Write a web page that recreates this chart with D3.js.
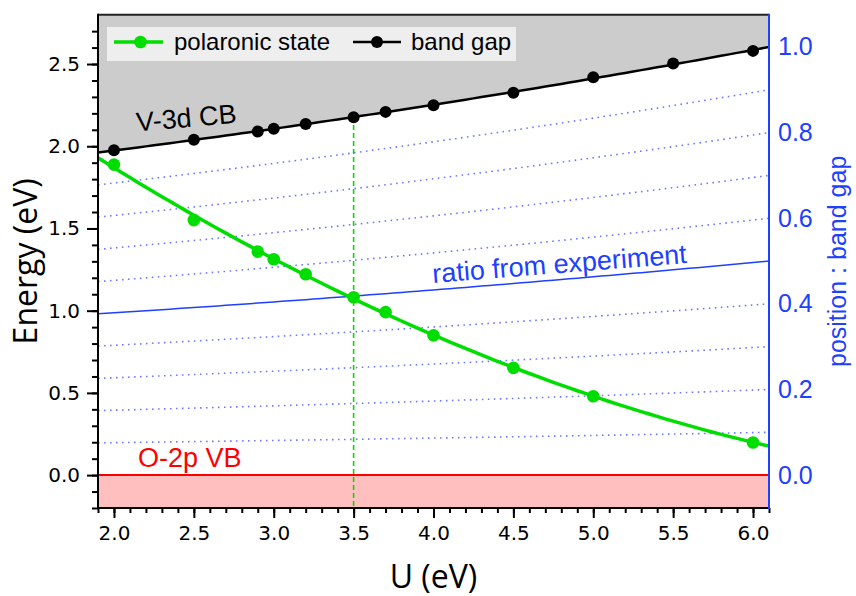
<!DOCTYPE html>
<html>
<head>
<meta charset="utf-8">
<script src="https://cdn.jsdelivr.net/npm/d3@7"></script>
<style>
  body { margin: 0; background: #fff; }
</style>
</head>
<body>
<div id="chart"></div>
<script>
// data
const gapU = [2.0, 2.5, 2.9, 3.0, 3.2, 3.5, 3.7, 4.0, 4.5, 5.0, 5.5, 6.0];
const gapE = [1.975, 2.039, 2.090, 2.106, 2.136, 2.176, 2.209, 2.249, 2.326, 2.419, 2.503, 2.580];
const polU = [2.0, 2.5, 2.9, 3.0, 3.2, 3.5, 3.7, 4.0, 4.5, 5.0, 6.0];
const polE = [1.888, 1.551, 1.359, 1.313, 1.222, 1.082, 0.991, 0.850, 0.652, 0.480, 0.198];
const ratioLevels = [0.1, 0.2, 0.3, 0.4, 0.6, 0.7, 0.8, 0.9];
const expRatio = 0.5;
const markU = 3.5;
const xTicks = [2.0, 2.5, 3.0, 3.5, 4.0, 4.5, 5.0, 5.5, 6.0];
const yTicks = [0.0, 0.5, 1.0, 1.5, 2.0, 2.5];
const rTicks = [0.0, 0.2, 0.4, 0.6, 0.8, 1.0];

const W = 856, H = 596;
const pL = 98, pR = 769, pT = 14.7, pB = 508;
const green = "#00dd00", blue = "#2040ff";
const sans = "'Liberation Sans', Arial, sans-serif";

// quadratic least squares fit
function quadFit(xs, ys) {
    let S = [0, 0, 0, 0, 0], T = [0, 0, 0];
    xs.forEach((x, i) => {
        for (let k = 0; k < 5; k++) S[k] += Math.pow(x, k);
        for (let k = 0; k < 3; k++) T[k] += ys[i] * Math.pow(x, k);
    });
    const A = [[S[0], S[1], S[2], T[0]], [S[1], S[2], S[3], T[1]], [S[2], S[3], S[4], T[2]]];
    for (let c = 0; c < 3; c++) {
        for (let r = c + 1; r < 3; r++) {
            const f = A[r][c] / A[c][c];
            for (let k = c; k < 4; k++) A[r][k] -= f * A[c][k];
        }
    }
    const b = [0, 0, 0];
    for (let r = 2; r >= 0; r--) {
        let s = A[r][3];
        for (let k = r + 1; k < 3; k++) s -= A[r][k] * b[k];
        b[r] = s / A[r][r];
    }
    return u => b[0] + b[1] * u + b[2] * u * u;
}
const gapFit = quadFit(gapU, gapE);
const polFit = quadFit(polU, polE);

const x = d3.scaleLinear().domain([1.9, 6.1]).range([pL, pR]);
const y = d3.scaleLinear().domain([-0.2, 2.8]).range([pB, pT]);
const gR = gapFit(6.1);
const yR = d3.scaleLinear().domain([-0.2 / gR, 2.8 / gR]).range([pB, pT]);

const uGrid = d3.range(1.9, 6.1001, 0.05);

const svg = d3.select("#chart").append("svg")
    .attr("width", W).attr("height", H)
    .style("font-family", sans);

svg.append("defs").append("clipPath").attr("id", "plot")
    .append("rect").attr("x", pL).attr("y", pT)
    .attr("width", pR - pL).attr("height", pB - pT);

const g = svg.append("g").attr("clip-path", "url(#plot)");

// grey conduction band region
g.append("path")
    .attr("fill", "#cccccc")
    .attr("d", d3.area().x(d => x(d)).y0(pT).y1(d => y(gapFit(d)))(uGrid));

// pink valence band region
g.append("rect")
    .attr("x", pL).attr("y", y(0))
    .attr("width", pR - pL).attr("height", pB - y(0))
    .attr("fill", "#ffbfbf");

// dotted ratio lines
ratioLevels.forEach(f => {
    g.append("path")
        .attr("fill", "none")
        .attr("stroke", "#6b7bff")
        .attr("stroke-width", 1.6)
        .attr("stroke-dasharray", "1.6,4.4")
        .attr("d", d3.line().x(d => x(d)).y(d => y(f * gapFit(d)))(uGrid));
});

// ratio from experiment
g.append("path")
    .attr("fill", "none")
    .attr("stroke", blue)
    .attr("stroke-width", 1.5)
    .attr("d", d3.line().x(d => x(d)).y(d => y(expRatio * gapFit(d)))(uGrid));

// VB top
g.append("line")
    .attr("x1", pL).attr("x2", pR)
    .attr("y1", y(0)).attr("y2", y(0))
    .attr("stroke", "#ff0000").attr("stroke-width", 2);

// U = 3.5 marker
g.append("line")
    .attr("x1", x(markU)).attr("x2", x(markU))
    .attr("y1", y(gapFit(markU))).attr("y2", pB)
    .attr("stroke", green).attr("stroke-width", 1.6)
    .attr("stroke-dasharray", "5,3");

// band gap curve + points
g.append("path")
    .attr("fill", "none").attr("stroke", "#000").attr("stroke-width", 2.5)
    .attr("d", d3.line().x(d => x(d)).y(d => y(gapFit(d)))(uGrid));
g.selectAll(".gap-pt").data(gapU).join("circle")
    .attr("class", "gap-pt")
    .attr("cx", d => x(d)).attr("cy", (d, i) => y(gapE[i]))
    .attr("r", 6).attr("fill", "#000");

// polaronic curve + points
g.append("path")
    .attr("fill", "none").attr("stroke", green).attr("stroke-width", 3.5)
    .attr("d", d3.line().x(d => x(d)).y(d => y(polFit(d)))(uGrid));
g.selectAll(".pol-pt").data(polU).join("circle")
    .attr("class", "pol-pt")
    .attr("cx", d => x(d)).attr("cy", (d, i) => y(polE[i]))
    .attr("r", 6.3).attr("fill", green);

// annotations
g.append("text")
    .attr("transform", "translate(137,131.5) rotate(-5)")
    .attr("font-size", 27).attr("fill", "#000")
    .text("V-3d CB");

g.append("text")
    .attr("x", 138).attr("y", 467)
    .attr("font-size", 27).attr("fill", "#ff0000")
    .text("O-2p VB");

const ang = Math.atan2(y(expRatio * gapFit(6.1)) - y(expRatio * gapFit(1.9)), x(6.1) - x(1.9)) * 180 / Math.PI;
g.append("text")
    .attr("transform", `translate(433,283) rotate(${ang})`)
    .attr("font-size", 27).attr("fill", blue)
    .text("ratio from experiment");

// legend
const lg = svg.append("g");
lg.append("rect").attr("x", 107).attr("y", 27).attr("width", 409).attr("height", 34).attr("fill", "#eeeeee");
lg.append("line").attr("x1", 114).attr("x2", 163).attr("y1", 42).attr("y2", 42)
    .attr("stroke", green).attr("stroke-width", 3.5);
lg.append("circle").attr("cx", 140.5).attr("cy", 42).attr("r", 6.3).attr("fill", green);
lg.append("text").attr("x", 174).attr("y", 50).attr("font-size", 24).text("polaronic state");
lg.append("line").attr("x1", 353).attr("x2", 401).attr("y1", 42).attr("y2", 42)
    .attr("stroke", "#000").attr("stroke-width", 2.5);
lg.append("circle").attr("cx", 377).attr("cy", 42).attr("r", 6).attr("fill", "#000");
lg.append("text").attr("x", 411).attr("y", 50).attr("font-size", 24).text("band gap");

// top frame
svg.append("line").attr("x1", pL).attr("x2", pR).attr("y1", pT).attr("y2", pT)
    .attr("stroke", "#222").attr("stroke-width", 2);

// bottom axis
const xAxis = svg.append("g").attr("transform", `translate(0,${pB})`);
xAxis.append("g")
    .call(d3.axisBottom(x).tickValues(d3.range(19, 62).map(d => d / 10)).tickSize(5).tickFormat(""))
    .call(a => a.select(".domain").remove());
xAxis.append("g")
    .call(d3.axisBottom(x).tickValues(xTicks).tickSize(10).tickPadding(8).tickFormat(d3.format(".1f")))
    .call(a => a.select(".domain").remove());
xAxis.selectAll("line").attr("stroke", "#000").attr("stroke-width", 2);
xAxis.selectAll("text").style("font-family", "'DejaVu Sans'").style("font-size", "20px").attr("fill", "#000");
svg.append("line").attr("x1", pL - 1).attr("x2", pR).attr("y1", pB).attr("y2", pB)
    .attr("stroke", "#000").attr("stroke-width", 2);

// left axis
const yAxis = svg.append("g").attr("transform", `translate(${pL},0)`);
yAxis.append("g")
    .call(d3.axisLeft(y).tickValues(d3.range(-2, 28).map(d => d / 10)).tickSize(6).tickFormat(""))
    .call(a => a.select(".domain").remove());
yAxis.append("g")
    .call(d3.axisLeft(y).tickValues(yTicks).tickSize(11).tickPadding(7).tickFormat(d3.format(".1f")))
    .call(a => a.select(".domain").remove());
yAxis.selectAll("line").attr("stroke", "#000").attr("stroke-width", 2);
yAxis.selectAll("text").style("font-family", "'DejaVu Sans'").style("font-size", "20px").attr("fill", "#000");
svg.append("line").attr("x1", pL).attr("x2", pL).attr("y1", pT - 1).attr("y2", pB + 1)
    .attr("stroke", "#000").attr("stroke-width", 2);

// right axis
const rAxis = svg.append("g").attr("transform", `translate(${pR},0)`);
rAxis.call(d3.axisRight(yR).tickValues(rTicks).tickSize(0).tickPadding(9).tickFormat(d3.format(".1f")))
    .call(a => a.select(".domain").remove());
rAxis.selectAll("text").style("font-family", sans).style("font-size", "25px").attr("fill", blue);
svg.append("line").attr("x1", pR).attr("x2", pR).attr("y1", pT - 1).attr("y2", pB + 1)
    .attr("stroke", blue).attr("stroke-width", 2);

// axis titles
svg.append("text")
    .attr("transform", `translate(37,${(pT + pB) / 2}) rotate(-90)`)
    .attr("text-anchor", "middle")
    .style("font-family", "'Open Sans'").attr("font-size", 32).attr("fill", "#000")
    .text("Energy (eV)");
svg.append("text")
    .attr("x", (pL + pR) / 2).attr("y", 588)
    .attr("text-anchor", "middle")
    .style("font-family", "'Open Sans'").attr("font-size", 32).attr("fill", "#000")
    .text("U (eV)");
svg.append("text")
    .attr("transform", `translate(846,${(pT + pB) / 2}) rotate(-90)`)
    .attr("text-anchor", "middle")
    .attr("font-size", 25).attr("fill", blue)
    .text("position : band gap");
</script>
</body>
</html>
